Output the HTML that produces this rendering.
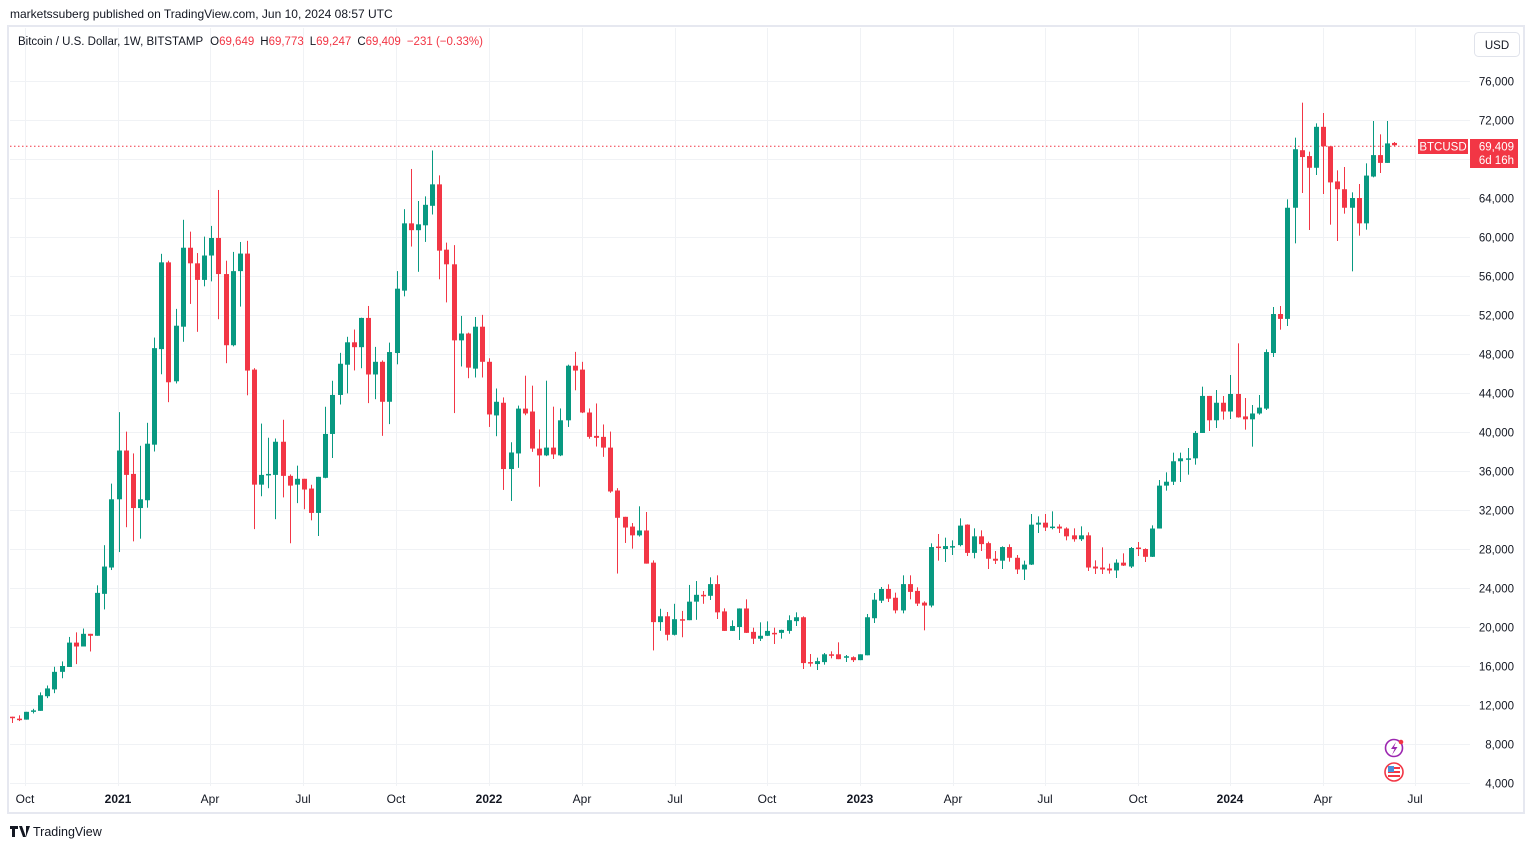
<!DOCTYPE html>
<html><head><meta charset="utf-8">
<style>
html,body{margin:0;padding:0;background:#fff;}
body{width:1534px;height:849px;overflow:hidden;position:relative;font-family:"Liberation Sans","DejaVu Sans",sans-serif;}
svg{position:absolute;left:0;top:0;}
</style></head>
<body>
<svg id="c" width="1534" height="849" viewBox="0 0 1534 849" xmlns="http://www.w3.org/2000/svg" font-family="Liberation Sans, DejaVu Sans, sans-serif">
<rect x="0" y="0" width="1534" height="849" fill="#fff"/>
<text x="10" y="18" font-size="12" fill="#131722">marketssuberg published on TradingView.com, Jun 10, 2024 08:57 UTC</text>
<rect x="8" y="26" width="1516" height="787" fill="none" stroke="#e6e8f0" stroke-width="2"/>
<g id="grid" stroke="#f0f2f5" stroke-width="1"></g>
<line x1="10" y1="146.3" x2="1418" y2="146.3" stroke="#f23645" stroke-width="1" stroke-dasharray="1.5,2.5"/>
<g id="candles"></g>
<text x="18" y="45" font-size="11.5" fill="#131722">Bitcoin / U.S. Dollar, 1W, BITSTAMP <tspan dx="4">O</tspan><tspan fill="#f23645">69,649</tspan><tspan dx="6">H</tspan><tspan fill="#f23645">69,773</tspan><tspan dx="6">L</tspan><tspan fill="#f23645">69,247</tspan><tspan dx="6">C</tspan><tspan fill="#f23645">69,409</tspan><tspan dx="6" fill="#f23645">−231 (−0.33%)</tspan></text>
<rect x="1474.5" y="32.5" width="45" height="24" rx="4" fill="#fff" stroke="#e0e3eb"/>
<text x="1497" y="49" font-size="11.5" fill="#131722" text-anchor="middle">USD</text>
<g id="plabels" font-size="11.5" fill="#131722" text-anchor="end"></g>
<rect x="1418" y="139" width="50" height="15" fill="#f23645"/>
<text x="1443" y="150.5" font-size="11.5" fill="#fff" text-anchor="middle">BTCUSD</text>
<rect x="1470" y="139" width="48" height="29" fill="#f23645"/>
<text x="1514" y="150.5" font-size="11.5" fill="#fff" text-anchor="end">69,409</text>
<text x="1514" y="164" font-size="11.5" fill="#fff" text-anchor="end">6d 16h</text>
<g id="tlabels" font-size="12" fill="#131722" text-anchor="middle"></g>
<circle cx="1394" cy="748" r="8.5" fill="#fff" stroke="#9c27b0" stroke-width="1.6"/>
<path d="M1396 742 L1391 749 L1394.5 749 L1392 755 L1397.5 747 L1394 747 Z" fill="#9c27b0"/>
<circle cx="1401" cy="742" r="2.3" fill="#f23645"/>
<circle cx="1394" cy="772" r="9" fill="#fff" stroke="#f23645" stroke-width="1.6"/>
<rect x="1388" y="767" width="12" height="2" fill="#f23645"/>
<rect x="1388" y="771" width="12" height="2" fill="#f23645"/>
<rect x="1388" y="775" width="12" height="2" fill="#f23645"/>
<rect x="1388" y="766" width="6" height="6" fill="#4a90d9"/>
<path d="M10 826 h8 v3 h-3 v8 h-3 v-8 h-2 z M19 826 h3 l4 11 h-3 z M26 826 h4 l-4 11 z" fill="#131722"/>
<text x="33" y="836" font-size="12.5" fill="#131722">TradingView</text>
</svg>
<script>
(function(){
var NS="http://www.w3.org/2000/svg";
function Y(v){return 81+(76-v)*9.75;}
var grid=document.getElementById('grid'),pl=document.getElementById('plabels'),tl=document.getElementById('tlabels');
function el(t,a,p,txt){var e=document.createElementNS(NS,t);for(var k in a)e.setAttribute(k,a[k]);if(txt)e.textContent=txt;p.appendChild(e);return e;}
for(var v=76;v>=4;v-=4){var y=Math.round(Y(v))+0.5;el('line',{x1:10,x2:1470,y1:y,y2:y},grid);
 el('text',{x:1514,y:y+4},pl,(v)+",000");}
var tx=[25,118,210,303,396,489,582,675,767,860,953,1045,1138,1230,1323,1415];
var tn=["Oct","2021","Apr","Jul","Oct","2022","Apr","Jul","Oct","2023","Apr","Jul","Oct","2024","Apr","Jul"];
for(var i=0;i<tx.length;i++){el('line',{x1:tx[i]+.5,x2:tx[i]+.5,y1:28,y2:786},grid);
 var t=el('text',{x:tx[i],y:803},tl,tn[i]);if(/^20/.test(tn[i]))t.setAttribute('font-weight','bold');}
var segs=[
[function(z){return 68-(z-50)/25.5;},[
[10.8,10.7,0,1525],[10.6,10.5,1505,1520],[10.5,11.3,0,0],[11.35,11.45,1488,1500],[11.4,13.0,1445,0],[12.9,13.7,1427,1460],[13.6,15.4,1378,1447],[15.4,16.0,1364,1408],[15.9,18.4,1300,0],[18.4,18.0,1288,1371],[18.0,19.3,1278,0],[19.3,19.1,0,1338],[19.1,23.5,1165,0],[23.4,26.2,1060,1228],[26.1,33.1,899,1125],[33.1,38.1,712,1078],[38.1,35.6,763,1013],[35.7,32.2,820,1050],[32.2,33.1,800,1043],[33.0,38.8,740,962],[38.7,48.6,517,815],[48.5,57.4,298,613],[57.4,45.1,316,686],[45.2,50.9,442,637],[50.8,58.9,209,528],[58.9,57.3,240,429],[57.3,55.6,296,502],[55.6,58.1,253,383],[58.1,59.9,225,370],[59.9,56.2,131,469],[56.2,48.9,316,584],[48.9,56.5,293,540],[56.5,58.3,267,436],[58.3,46.3,264,668],[46.4,34.6,597,1018],[34.6,35.6,742,932],[35.6,35.7,779,911],[35.6,39.0,781,992],[39.0,35.5,732,935],[35.5,34.5,875,1055],[34.6,35.2,852,950],[35.2,34.1,0,966],[34.2,31.7,902,995],[31.7,35.4,0,1036],[35.3,39.8,698,885],[39.8,43.8,630,832],[43.8,47.0,557,692],[46.9,49.2,515,663],[49.2,48.7,496,603]]],
[function(z){return 68-(z-52)/27.4;},[
[48.7,51.7,498,640],[51.7,45.9,465,738],[45.9,47.2,580,727],[47.2,43.1,618,830],[43.1,48.2,568,797],[48.1,54.7,367,629],[54.5,61.4,193,438],[61.4,60.7,80,298],[60.7,61.3,170,369],[61.2,63.3,157,285],[63.2,65.4,28,208],[65.4,58.6,98,390],[58.7,57.2,287,455],[57.2,49.4,294,766],[49.4,50.1,493,635],[50.1,46.6,540,668],[46.5,50.8,496,666],[50.8,47.2,490,666],[47.2,41.8,612,805],[41.7,43.1,697,831],[43.0,36.2,722,982],[36.2,37.9,848,1013],[37.8,42.4,745,920],[42.4,41.9,661,772],[42.1,38.3,689,875],[38.3,37.6,812,973],[37.6,38.4,675,887],[38.4,37.7,748,895],[37.6,41.2,753,887],[41.2,46.8,630,805],[46.8,46.3,594,702],[46.4,42.0,622,766],[42.0,39.5,753,838],[39.6,39.4,739,860],[39.5,38.4,798,889],[38.4,33.9,818,990],[34.0,31.2,977,1217],[31.3,30.2,1058,1131],[30.3,29.4,1075,1147],[29.4,29.9,1028,1113],[29.9,26.5,1044,1189],[26.6,20.5,1180,1433],[20.5,21.1,1316,1378],[21.1,19.2,1325,1405],[19.2,20.8,1302,1391],[20.8,20.7,1322,1396],[20.7,22.6,1249,1347],[22.6,23.3,1238,1347],[23.3,23.2,1266,1302]]],
[function(z){return 32-(z-35)/29.25;},[
[23.2,24.4,237,305],[24.4,21.5,231,362],[21.6,19.6,330,398],[19.6,20.1,366,398],[20.0,21.9,330,425],[21.9,19.4,303,404],[19.5,18.8,388,437],[18.8,19.1,372,428],[19.1,19.6,369,413],[19.4,19.3,388,437],[19.4,19.7,394,421],[19.6,20.7,351,406],[20.6,21.0,342,383],[21.0,16.3,354,512],[16.4,16.3,467,505],[16.2,16.5,478,515],[16.4,17.2,464,499],[17.2,17.15,459,480],[17.2,16.7,432,482],[16.9,17.0,470,491],[16.9,16.6,474,491],[16.6,17.2,468,485],[17.1,21.0,347,470],[20.9,22.8,284,374],[22.7,23.9,266,314],[23.9,22.9,258,311],[23.0,21.7,283,345],[21.7,24.4,231,345],[24.4,23.6,231,303],[23.7,22.4,267,323],[22.5,22.2,309,396],[22.2,28.2,135,327],[28.25,28.2,107,187],[28.0,28.3,118,191],[28.2,28.3,126,170],[28.4,30.4,60,144],[30.5,27.6,78,173],[27.6,29.3,90,180],[29.3,28.5,96,158],[28.6,27.0,130,212],[27.0,26.8,158,197],[26.8,28.2,144,212],[28.2,27.1,138,190],[27.1,25.9,170,227],[25.9,26.4,187,245],[26.4,30.5,47,200],[30.5,30.7,54,104],[30.7,30.2,47,98],[30.25,30.3,39,93],[30.3,30.1,78,104],[30.1,29.3,87,126],[29.4,29.0,90,130],[29.0,29.4,84,128],[29.4,26.1,102,218],[26.2,26.0,186,227],[26.1,25.9,147,227],[26.0,25.8,196,226],[25.8,26.6,183,239],[26.6,26.3,165,203],[26.2,28.1,146,209],[28.15,28.1,131,173],[28.0,27.2,150,191],[27.2,30.1,81,176]]],
[function(z){return 76-(z-183)/29.25;},[
[30.1,34.5,1380,0],[34.5,34.9,1357,1412],[34.9,37.0,1298,1395],[37.0,37.3,1298,1386],[37.25,37.3,1284,1364],[37.3,39.9,1233,1334],[39.9,43.7,1100,0],[43.7,41.2,0,1233],[41.2,43.0,1110,1224],[43.0,42.1,1128,1199],[42.1,43.9,1065,1197],[43.9,41.5,970,1193],[41.6,41.3,1134,1229],[41.3,41.9,1155,1280],[41.9,42.5,1125,1184],[42.4,48.2,988,1170],[48.1,52.1,861,1011],[52.1,51.6,858,929],[51.6,63.0,538,918],[63.0,69.0,353,670],[68.9,68.2,248,519],[68.3,67.1,395,630],[67.1,71.3,310,465],[71.3,69.3,279,522],[69.3,65.6,378,614],[65.7,64.9,451,663],[64.9,63.0,441,581],[63.0,64.0,517,754],[64.0,61.4,492,647],[61.4,66.3,430,629],[66.2,68.4,303,472],[68.4,67.6,343,459],[67.6,69.6,303,428],[69.649,69.409,366,379]]]
];
var all=[];
segs.forEach(function(s){var f=s[0];s[1].forEach(function(d){
 var o=d[0],c=d[1],h=d[2]?f(d[2]):Math.max(o,c),l=d[3]?f(d[3]):Math.min(o,c);
 h=Math.max(h,o,c);l=Math.min(l,o,c);all.push([o,c,h,l]);});});
var g=document.getElementById('candles'),N=all.length,x0=11.7,x1=1394.3,step=(x1-x0)/(N-1);
for(var i=0;i<N;i++){var d=all[i],x=x0+i*step,col=d[1]>=d[0]?'#089981':'#f23645';
 var xc=Math.round(x);
 el('rect',{x:xc,y:Y(d[2]),width:1,height:Math.max(1,Y(d[3])-Y(d[2])),fill:col},g);
 var yt=Y(Math.max(d[0],d[1])),yb=Y(Math.min(d[0],d[1]));
 el('rect',{x:xc-2,y:yt,width:5,height:Math.max(1.5,yb-yt),fill:col},g);}
})();
</script>
</body></html>
